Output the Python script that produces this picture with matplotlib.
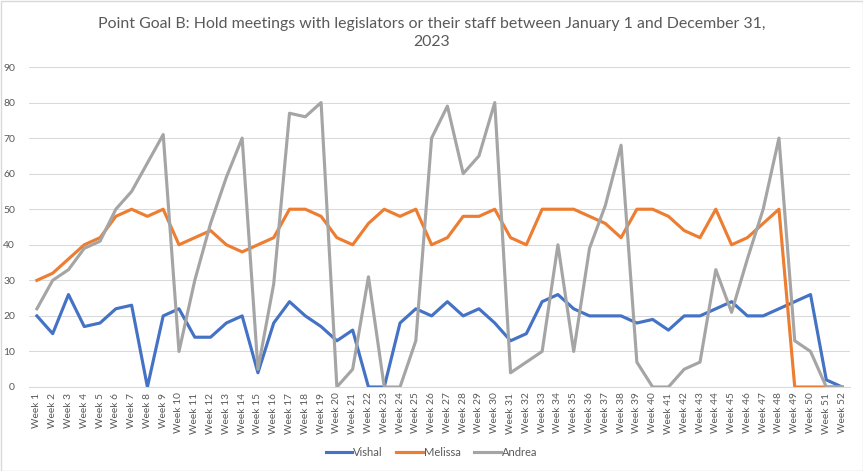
import matplotlib
matplotlib.use("Agg")
import matplotlib.pyplot as plt
from matplotlib.patches import Rectangle

weeks = [f"Week {i}" for i in range(1, 53)]
vishal = [20, 15, 26, 17, 18, 22, 23, 0, 20, 22, 14, 14, 18, 20, 4, 18, 24, 20, 17, 13,
          16, 0, 0, 18, 22, 20, 24, 20, 22, 18, 13, 15, 24, 26, 22, 20, 20, 20, 18, 19,
          16, 20, 20, 22, 24, 20, 20, 22, 24, 26, 2, 0]
melissa = [30, 32, 36, 40, 42, 48, 50, 48, 50, 40, 42, 44, 40, 38, 40, 42, 50, 50, 48, 42,
           40, 46, 50, 48, 50, 40, 42, 48, 48, 50, 42, 40, 50, 50, 50, 48, 46, 42, 50, 50,
           48, 44, 42, 50, 40, 42, 46, 50, 0, 0, 0, 0]
andrea = [22, 30, 33, 39, 41, 50, 55, 63, 71, 10, 30, 46, 59, 70, 5, 29, 77, 76, 80, 0,
          5, 31, 0, 0, 13, 70, 79, 60, 65, 80, 4, 7, 10, 40, 10, 39, 51, 68, 7, 0,
          0, 5, 7, 33, 21, 36, 50, 70, 13, 10, 0, 0]
yticks = list(range(0, 91, 10))
title = "Point Goal B: Hold meetings with legislators or their staff between January 1 and December 31,\n2023"

plt.rcParams['font.family'] = ['Lato', 'DejaVu Sans']
txt = '#595959'

fig = plt.figure(figsize=(8.63, 4.71), dpi=100)
ax = fig.add_axes([29/863, 1-387/471, (850-29)/863, (387-67)/471])
x = list(range(1, 53))
ax.plot(x, vishal, color='#4472C4', lw=2.25, label='Vishal', solid_joinstyle='round')
ax.plot(x, melissa, color='#ED7D31', lw=2.25, label='Melissa', solid_joinstyle='round')
ax.plot(x, andrea, color='#A5A5A5', lw=2.25, label='Andrea', solid_joinstyle='round')

ax.set_xlim(0.5, 52.5)
ax.set_ylim(0, 90)
ax.set_yticks(yticks)
ax.set_xticks(x)
ax.set_xticklabels(weeks, rotation=90, fontsize=7.3, color=txt)
ax.tick_params(axis='y', labelsize=7.5, labelcolor=txt, length=0, pad=10)
ax.tick_params(axis='x', length=0, pad=4)
ax.grid(axis='y', color='#D9D9D9', lw=0.75)
ax.set_axisbelow(True)
for s in ['top', 'right', 'left']:
    ax.spines[s].set_visible(False)
ax.spines['bottom'].set_color('#D9D9D9')
ax.spines['bottom'].set_linewidth(0.75)

fig.text(0.5, 1-33/471, title, ha='center', va='center', fontsize=11.4, color=txt,
         linespacing=1.45)

leg = fig.legend(loc='center', bbox_to_anchor=(0.5, 1-452/471), ncol=3, frameon=False,
                 fontsize=8, handlelength=2.4, handletextpad=0.1, columnspacing=1.2,
                 borderpad=0, borderaxespad=0)
for t in leg.get_texts():
    t.set_color(txt)

fig.patches.append(Rectangle((0.5/863, 0.5/471), 1-1/863, 1-1/471, transform=fig.transFigure,
                             fill=False, edgecolor='#D9D9D9', lw=1))
fig.savefig('out.png', dpi=100)
